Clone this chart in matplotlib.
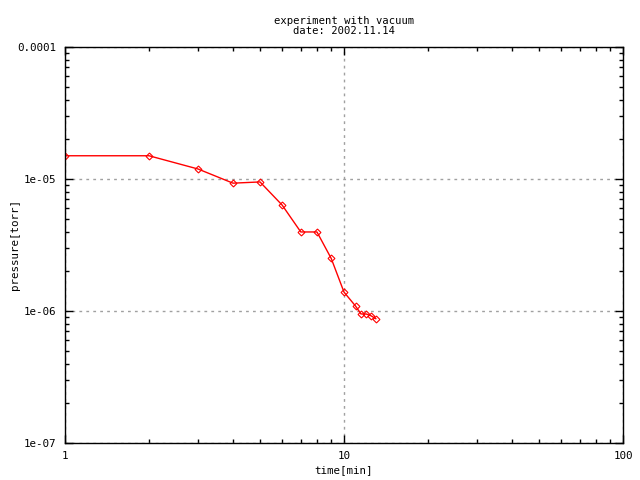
import numpy as np
import matplotlib.pyplot as plt
from matplotlib.ticker import FixedLocator, LogLocator, NullFormatter

# data
time_min = [1, 2, 3, 4, 5, 6, 7, 8, 9, 10, 11, 11.5, 12, 12.5, 13]
pressure = [1.5e-5, 1.5e-5, 1.19e-5, 9.3e-6, 9.5e-6, 6.35e-6, 3.97e-6, 3.97e-6,
            2.5e-6, 1.39e-6, 1.09e-6, 9.5e-7, 9.5e-7, 9.2e-7, 8.75e-7]
xticks = [1, 10, 100]
xticklabels = ['1', '10', '100']
yticks = [1e-7, 1e-6, 1e-5, 1e-4]
yticklabels = ['1e-07', '1e-06', '1e-05', '0.0001']

plt.rcParams['font.family'] = 'DejaVu Sans Mono'
plt.rcParams['font.size'] = 7.8

fig = plt.figure(figsize=(6.4, 4.8), dpi=100)
ax = fig.add_axes([65/640, 1-443/480, (623-65)/640, (443-47)/480])

ax.plot(time_min, pressure, color='red', lw=1, marker='D', ms=3.5,
        mfc='none', mec='red', mew=0.8)

ax.set_xscale('log')
ax.set_yscale('log')
ax.set_xlim(1, 100)
ax.set_ylim(1e-7, 1e-4)

ax.xaxis.set_major_locator(FixedLocator(xticks))
ax.set_xticklabels(xticklabels)
ax.yaxis.set_major_locator(FixedLocator(yticks))
ax.set_yticklabels(yticklabels)
ax.xaxis.set_minor_locator(LogLocator(base=10, subs=np.arange(2, 10)))
ax.yaxis.set_minor_locator(LogLocator(base=10, subs=np.arange(2, 10)))
ax.xaxis.set_minor_formatter(NullFormatter())
ax.yaxis.set_minor_formatter(NullFormatter())

ax.tick_params(which='both', direction='in', top=True, right=True, width=1)
ax.tick_params(which='major', length=6)
ax.tick_params(axis='x', which='major', pad=6)
ax.tick_params(axis='y', which='major', pad=6)
ax.tick_params(which='minor', length=3)
for s in ax.spines.values():
    s.set_linewidth(1)

ax.grid(True, which='major', color='#a0a0a0', ls=(0, (2, 3)), lw=1)

ax.set_xlabel('time[min]')
ax.xaxis.set_label_coords(0.5, -22/396)
ax.set_ylabel('pressure[torr]')
ax.yaxis.set_label_coords(-45/558, 0.5)
ax.set_title('experiment with vacuum\ndate: 2002.11.14', fontsize=7.6,
             pad=9, linespacing=1.1)

plt.savefig('out.png', dpi=100)
